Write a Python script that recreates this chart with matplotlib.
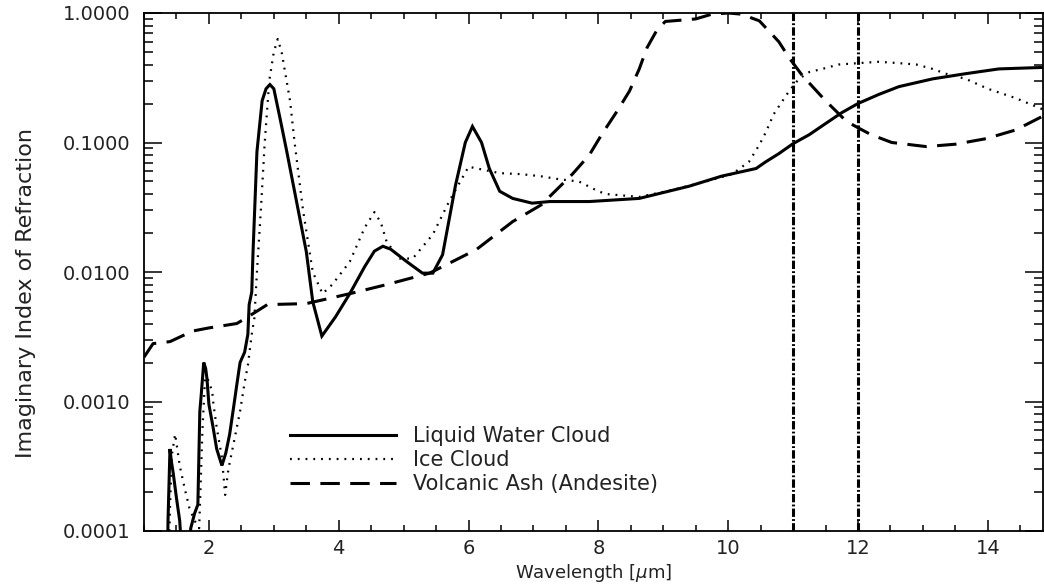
import matplotlib
matplotlib.use("Agg")
import matplotlib.pyplot as plt
from matplotlib.ticker import FixedLocator, MultipleLocator, LogLocator, FuncFormatter, NullFormatter

plt.rcParams['font.family'] = ['DejaVu Sans']
plt.rcParams['lines.scale_dashes'] = False

# ---------------- data ----------------
water_wl = [1.36, 1.37, 1.40, 1.42, 1.45, 1.50, 1.55, 1.60, 1.68, 1.72, 1.78, 1.83,
            1.86, 1.88, 1.92, 1.95, 1.97, 2.00, 2.06, 2.12, 2.20, 2.26, 2.32, 2.38,
            2.43, 2.48, 2.55, 2.60, 2.62, 2.66, 2.68, 2.71, 2.74, 2.82, 2.88, 2.94,
            3.00, 3.10, 3.20, 3.35, 3.50, 3.60, 3.74, 3.95, 4.17, 4.40, 4.55, 4.68,
            4.80, 5.05, 5.29, 5.45, 5.60, 5.80, 5.95, 6.06, 6.20, 6.32, 6.48, 6.68,
            6.98, 7.25, 7.86, 8.63, 9.40, 9.90, 10.43, 10.58, 10.78, 11.00, 11.25,
            11.50, 11.75, 12.00, 12.32, 12.63, 13.15, 13.66, 14.17, 14.85]
water_k = [5e-5, 1.2e-4, 4.3e-4, 3.5e-4, 2.8e-4, 1.8e-4, 1.2e-4, 5e-5, 5e-5, 1.05e-4,
           1.37e-4, 1.6e-4, 8.4e-4, 1.1e-3, 2.0e-3, 1.8e-3, 1.5e-3, 9.5e-4, 6.5e-4,
           4.3e-4, 3.2e-4, 4.0e-4, 5.6e-4, 9.0e-4, 1.35e-3, 2.0e-3, 2.4e-3, 3.3e-3,
           5.6e-3, 7.0e-3, 1.44e-2, 3.5e-2, 8.5e-2, 0.21, 0.26, 0.28, 0.26, 0.15,
           0.085, 0.035, 0.0144, 0.0059, 0.0032, 0.0045, 0.0068, 0.011, 0.0145,
           0.0158, 0.015, 0.012, 0.0098, 0.0098, 0.0136, 0.047, 0.10, 0.133, 0.10,
           0.063, 0.042, 0.037, 0.034, 0.035, 0.035, 0.037, 0.046, 0.055, 0.063,
           0.071, 0.082, 0.098, 0.115, 0.14, 0.17, 0.20, 0.235, 0.27, 0.31, 0.34,
           0.37, 0.38]

ice_wl = [1.38, 1.40, 1.43, 1.48, 1.55, 1.63, 1.70, 1.78, 1.85, 1.90, 1.94, 1.97,
          2.05, 2.07, 2.12, 2.20, 2.25, 2.30, 2.43, 2.48, 2.55, 2.60, 2.66, 2.70,
          2.74, 2.80, 2.86, 2.93, 3.00, 3.06, 3.12, 3.25, 3.32, 3.45, 3.60, 3.75,
          3.90, 4.17, 4.40, 4.55, 4.65, 4.74, 4.94, 5.14, 5.45, 5.70, 6.00, 6.20,
          6.48, 6.80, 7.10, 7.40, 7.70, 8.00, 8.12, 8.63, 9.14, 9.66, 10.06, 10.32,
          10.48, 10.58, 10.70, 10.83, 10.94, 11.09, 11.25, 11.45, 11.70, 12.00,
          12.32, 12.63, 12.90, 13.15, 13.35, 13.66, 14.00, 14.43, 14.85]
ice_k = [5e-5, 1.5e-4, 3.9e-4, 5.6e-4, 3.2e-4, 2.1e-4, 1.5e-4, 1.2e-4, 1.05e-4,
         6e-4, 1.5e-3, 1.55e-3, 1.2e-3, 9.5e-4, 6.3e-4, 3.7e-4, 1.9e-4, 3.0e-4,
         6.3e-4, 8.4e-4, 1.4e-3, 1.9e-3, 3.3e-3, 4.4e-3, 0.01, 0.03, 0.10, 0.30,
         0.50, 0.63, 0.50, 0.21, 0.10, 0.03, 0.01, 0.0068, 0.008, 0.012, 0.022,
         0.029, 0.024, 0.017, 0.0127, 0.0127, 0.0195, 0.035, 0.065, 0.062, 0.058,
         0.057, 0.055, 0.052, 0.050, 0.042, 0.040, 0.038, 0.043, 0.050, 0.057,
         0.071, 0.096, 0.12, 0.165, 0.207, 0.25, 0.31, 0.35, 0.37, 0.40, 0.41,
         0.42, 0.41, 0.40, 0.37, 0.34, 0.31, 0.26, 0.22, 0.18]

ash_wl = [1.00, 1.14, 1.40, 1.75, 2.00, 2.43, 2.60, 2.90, 3.50, 4.17, 4.74, 5.40,
          6.12, 6.68, 7.12, 7.60, 7.86, 8.05, 8.29, 8.48, 8.63, 8.75, 8.89, 9.03,
          9.50, 9.75, 10.00, 10.20, 10.48, 10.78, 10.94, 11.14, 11.50, 11.82,
          12.00, 12.20, 12.52, 13.05, 13.50, 13.97, 14.43, 14.85]
ash_k = [0.0022, 0.0028, 0.0029, 0.0035, 0.0037, 0.0040, 0.0045, 0.0056, 0.0057,
         0.0068, 0.0080, 0.0098, 0.0149, 0.0245, 0.033, 0.057, 0.08, 0.115, 0.175,
         0.25, 0.37, 0.54, 0.72, 0.86, 0.90, 0.98, 1.0, 0.98, 0.87, 0.60, 0.45,
         0.33, 0.21, 0.146, 0.13, 0.115, 0.10, 0.093, 0.097, 0.107, 0.125, 0.16]

band_lines = [11.0, 12.0]
y_ticks = [1e-4, 1e-3, 1e-2, 1e-1, 1.0]
x_ticks = [2, 4, 6, 8, 10, 12, 14]
labels = ['Liquid Water Cloud', 'Ice Cloud', 'Volcanic Ash (Andesite)']

# ---------------- figure ----------------
W, H = 1044, 584
fig = plt.figure(figsize=(W / 100, H / 100), dpi=100)
ax = fig.add_axes([144 / W, 1 - 531 / H, (1043 - 144) / W, (531 - 13) / H])

ax.plot(water_wl, water_k, color='black', lw=2.2, solid_joinstyle='miter',
        label=labels[0])
ax.plot(ice_wl, ice_k, color='black', lw=1.6, linestyle=(0, (1.3, 4.3)),
        label=labels[1])
ax.plot(ash_wl, ash_k, color='black', lw=2.2, linestyle=(0, (14, 7.5)),
        label=labels[2])
for b in band_lines:
    ax.axvline(b, color='black', lw=2.2, linestyle=(0, (6, 1.6, 1.3, 1.6)))

ax.set_yscale('log')
ax.set_xlim(1, 14.85)
ax.set_ylim(1e-4, 1.0)

ax.yaxis.set_major_locator(FixedLocator(y_ticks))
ax.yaxis.set_minor_locator(LogLocator(base=10, subs=range(2, 10)))
ax.yaxis.set_major_formatter(FuncFormatter(lambda v, p: '%.4f' % v))
ax.yaxis.set_minor_formatter(NullFormatter())
ax.xaxis.set_major_locator(FixedLocator(x_ticks))
ax.xaxis.set_minor_locator(MultipleLocator(0.5))

tc = '#222222'
ax.tick_params(axis='both', which='both', direction='in', top=True, right=True,
               colors='black', labelcolor=tc, width=1.1)
ax.tick_params(axis='y', which='major', length=13, labelsize=14, pad=10)
ax.tick_params(axis='y', which='minor', length=6.5)
ax.tick_params(axis='x', which='major', length=8, labelsize=14, pad=6)
ax.tick_params(axis='x', which='minor', length=4)
for s in ax.spines.values():
    s.set_linewidth(1.3)
    s.set_color('black')

ax.set_xlabel(r'Wavelength [$\mu$m]', fontsize=13, color=tc)
ax.xaxis.set_label_coords(0.5, -0.06)
ax.set_ylabel('Imaginary Index of Refraction', fontsize=16, color=tc)
ax.yaxis.set_label_coords(-0.12, 0.46)

leg = ax.legend(loc='upper left', bbox_to_anchor=(290 / W, 1 - 426 / H),
                bbox_transform=fig.transFigure, frameon=False, fontsize=15,
                handlelength=5.1, handletextpad=0.8, labelspacing=0.2,
                borderpad=0, borderaxespad=0)
for t in leg.get_texts():
    t.set_color(tc)

fig.savefig('out.png', dpi=100)
